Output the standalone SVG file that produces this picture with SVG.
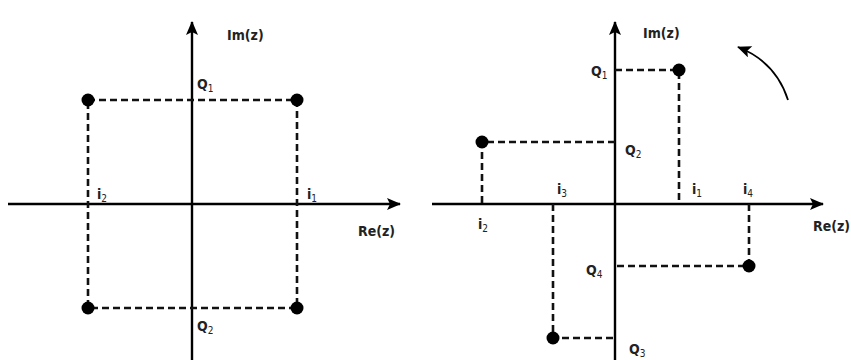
<svg xmlns="http://www.w3.org/2000/svg" width="851" height="360" viewBox="0 0 851 360">
<defs>
<marker id="ah" viewBox="0 0 14 12" refX="13" refY="6" markerWidth="14" markerHeight="12" markerUnits="userSpaceOnUse" orient="auto">
<path d="M0,0 L14,6 L0,12 L3,6 Z" fill="#000"/>
</marker>
<marker id="ah2" viewBox="0 0 14 12" refX="13" refY="6" markerWidth="15" markerHeight="12" markerUnits="userSpaceOnUse" orient="auto">
<path d="M0,0 L14,6 L0,12 L3,6 Z" fill="#000"/>
</marker>
</defs>
<style>
.axis{stroke:#000;stroke-width:2.4;fill:none}
.dash{stroke:#111;stroke-width:2.6;stroke-dasharray:7,4;fill:none}
.dot{fill:#000}
text{font-family:"DejaVu Sans Condensed","DejaVu Sans",sans-serif;font-stretch:condensed;font-weight:bold;font-size:14px;fill:#222}
.sub{font-size:10px;font-weight:normal}
</style>
<rect width="851" height="360" fill="#fff"/>
<g id="connectors">
<line class="axis" x1="192" y1="360" x2="192" y2="22" marker-end="url(#ah)"/>
<line class="axis" x1="8" y1="204" x2="400" y2="204" marker-end="url(#ah)"/>
<path class="dash" d="M88,100 H297 V308 H88 Z"/>
<line class="axis" x1="615" y1="360" x2="615" y2="22" marker-end="url(#ah)"/>
<line class="axis" x1="432" y1="204" x2="823" y2="204" marker-end="url(#ah)"/>
<path class="dash" d="M615,70 H679 V204"/>
<path class="dash" d="M615,142 H482 V204"/>
<path class="dash" d="M749,204 V266 H615"/>
<path class="dash" d="M553,204 V338 H615"/>
<path d="M788,100 Q776,62 738,47" fill="none" stroke="#000" stroke-width="1.8" marker-end="url(#ah2)"/>
</g>
<g id="left-points">
<circle class="dot" cx="88" cy="100" r="6.5"/>
<circle class="dot" cx="297" cy="100" r="6.5"/>
<circle class="dot" cx="88" cy="308" r="6.5"/>
<circle class="dot" cx="297" cy="308" r="6.5"/>
</g>
<g id="right-points">
<circle class="dot" cx="679" cy="70" r="6.5"/>
<circle class="dot" cx="482" cy="142" r="6.5"/>
<circle class="dot" cx="749" cy="266" r="6.5"/>
<circle class="dot" cx="553" cy="338" r="6.5"/>
</g>
<g id="left-labels">
<text x="227" y="40">Im(z)</text>
<text x="197" y="89">Q<tspan class="sub" dy="3">1</tspan></text>
<text x="97" y="199">i<tspan class="sub" dy="3">2</tspan></text>
<text x="307" y="199">i<tspan class="sub" dy="3">1</tspan></text>
<text x="358" y="236">Re(z)</text>
<text x="197" y="331">Q<tspan class="sub" dy="3">2</tspan></text>
</g>
<g id="right-labels">
<text x="643" y="38">Im(z)</text>
<text x="591" y="76">Q<tspan class="sub" dy="3">1</tspan></text>
<text x="625" y="155">Q<tspan class="sub" dy="3">2</tspan></text>
<text x="557" y="194">i<tspan class="sub" dy="3">3</tspan></text>
<text x="692" y="194">i<tspan class="sub" dy="3">1</tspan></text>
<text x="743" y="194">i<tspan class="sub" dy="3">4</tspan></text>
<text x="478" y="229">i<tspan class="sub" dy="3">2</tspan></text>
<text x="813" y="231">Re(z)</text>
<text x="586" y="275">Q<tspan class="sub" dy="3">4</tspan></text>
<text x="629" y="354">Q<tspan class="sub" dy="3">3</tspan></text>
</g>
</svg>
